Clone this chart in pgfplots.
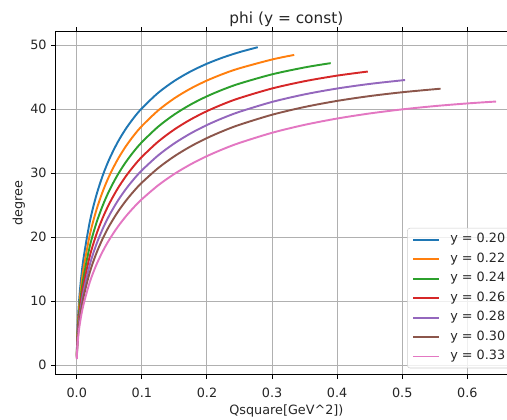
\documentclass[border=0pt]{standalone}
\usepackage{fontspec}
\setmainfont{DejaVu Sans}
\usepackage{pgfplots}
\pgfplotsset{compat=1.18}
\definecolor{c0}{HTML}{1F77B4}
\definecolor{c1}{HTML}{FF7F0E}
\definecolor{c2}{HTML}{2CA02C}
\definecolor{c3}{HTML}{D62728}
\definecolor{c4}{HTML}{9467BD}
\definecolor{c5}{HTML}{8C564B}
\definecolor{c6}{HTML}{E377C2}
\definecolor{gridgray}{HTML}{B0B0B0}
\definecolor{leggray}{HTML}{CCCCCC}
\begin{document}
\begin{tikzpicture}
\begin{axis}[
  scale only axis, width=360.3pt, height=268pt,
  at={(0pt,0pt)}, anchor=south west,
  xmin=-0.0322, xmax=0.6762, ymin=-1.49, ymax=52.1,
  xtick={0,0.1,0.2,0.3,0.4,0.5,0.6},
  xticklabels={0.0,0.1,0.2,0.3,0.4,0.5,0.6},
  ytick={0,10,20,30,40,50},
  yticklabels={0,10,20,30,40,50},
  tick align=outside, major tick length=3.5pt,
  tick style={black, line width=0.8pt},
  axis line style={black, line width=0.8pt},
  grid=major, major grid style={draw=gridgray, line width=0.8pt},
  tick label style={font=\fontsize{10}{12}\selectfont, text=black!85, inner sep=0pt},
  xticklabel style={yshift=-6.5pt},
  yticklabel style={xshift=-3.5pt},
  title={phi (y = const)},
  title style={font=\fontsize{12}{14.4}\selectfont, text=black!85, at={(0.5,1)}, anchor=south, inner sep=0pt, yshift=-2.5pt},
  xlabel={Qsquare[GeV\textasciicircum 2])},
  ylabel={degree},
  label style={font=\fontsize{10}{12}\selectfont, text=black!85, inner sep=0pt},
  xlabel style={yshift=-5.5pt},
  ylabel style={yshift=4pt},
  legend cell align=left,
  legend image code/.code={\draw[#1, draw=., line width=1.5pt] (0pt,0pt) -- (20pt,0pt);},
  legend style={at={(1,0)}, anchor=south east, xshift=-5pt, yshift=5pt,
    draw=leggray, fill=white, fill opacity=0.8, text opacity=1,
    rounded corners=2pt, font=\fontsize{10}{12}\selectfont, text=black!85,
    inner xsep=4pt, inner ysep=4pt, row sep=5.2pt, column sep=8pt,
    nodes={inner sep=0pt, text height=7.5pt, text depth=2.5pt}},
]
\addplot[c0, line width=1.5pt, smooth, tension=0.5] coordinates {(0.0001,1.708) (0.0005,3.812) (0.001,5.380) (0.0025,8.454) (0.005,11.837) (0.01,16.418) (0.02,22.386) (0.03,26.506) (0.04,29.654) (0.05,32.186) (0.0625,34.758) (0.075,36.861) (0.0875,38.620) (0.1,40.119) (0.125,42.535) (0.15,44.403) (0.175,45.886) (0.2,47.087) (0.225,48.075) (0.25,48.897) (0.278,49.663)};
\addlegendentry{y = 0.20}
\addplot[c1, line width=1.5pt, smooth, tension=0.5] coordinates {(0.0001,1.533) (0.0005,3.423) (0.001,4.832) (0.0025,7.601) (0.005,10.660) (0.01,14.830) (0.02,20.328) (0.03,24.179) (0.04,27.158) (0.05,29.581) (0.0625,32.069) (0.075,34.124) (0.0875,35.860) (0.1,37.351) (0.125,39.781) (0.15,41.686) (0.175,43.213) (0.2,44.463) (0.225,45.502) (0.25,46.374) (0.3,47.745) (0.334,48.459)};
\addlegendentry{y = 0.22}
\addplot[c2, line width=1.5pt, smooth, tension=0.5] coordinates {(0.0001,1.387) (0.0005,3.098) (0.001,4.375) (0.0025,6.887) (0.005,9.669) (0.01,13.483) (0.02,18.559) (0.03,22.157) (0.04,24.969) (0.05,27.277) (0.0625,29.669) (0.075,31.663) (0.0875,33.360) (0.1,34.829) (0.125,37.246) (0.15,39.161) (0.175,40.714) (0.2,41.997) (0.225,43.072) (0.25,43.982) (0.3,45.427) (0.35,46.505) (0.39,47.175)};
\addlegendentry{y = 0.24}
\addplot[c3, line width=1.5pt, smooth, tension=0.5] coordinates {(0.0001,1.264) (0.0005,2.822) (0.001,3.986) (0.0025,6.279) (0.005,8.824) (0.01,12.328) (0.02,17.026) (0.03,20.388) (0.04,23.039) (0.05,25.232) (0.0625,27.520) (0.075,29.443) (0.0875,31.092) (0.1,32.528) (0.125,34.912) (0.15,36.820) (0.175,38.381) (0.2,39.682) (0.225,40.780) (0.25,41.718) (0.3,43.219) (0.35,44.354) (0.4,45.227) (0.447,45.864)};
\addlegendentry{y = 0.26}
\addplot[c4, line width=1.5pt, smooth, tension=0.5] coordinates {(0.0001,1.157) (0.0005,2.585) (0.001,3.652) (0.0025,5.756) (0.005,8.095) (0.01,11.326) (0.02,15.686) (0.03,18.830) (0.04,21.327) (0.05,23.405) (0.0625,25.589) (0.075,27.437) (0.0875,29.031) (0.1,30.427) (0.125,32.762) (0.15,34.648) (0.175,36.204) (0.2,37.510) (0.225,38.621) (0.25,39.574) (0.3,41.116) (0.35,42.296) (0.4,43.213) (0.45,43.930) (0.5,44.494) (0.503,44.523)};
\addlegendentry{y = 0.28}
\addplot[c5, line width=1.5pt, smooth, tension=0.5] coordinates {(0.0001,1.065) (0.0005,2.380) (0.001,3.362) (0.0025,5.300) (0.005,7.459) (0.01,10.449) (0.02,14.504) (0.03,17.447) (0.04,19.799) (0.05,21.767) (0.0625,23.847) (0.075,25.618) (0.0875,27.153) (0.1,28.504) (0.125,30.779) (0.15,32.632) (0.175,34.173) (0.2,35.474) (0.225,36.587) (0.25,37.548) (0.3,39.115) (0.35,40.327) (0.4,41.278) (0.45,42.031) (0.5,42.630) (0.55,43.106) (0.559,43.181)};
\addlegendentry{y = 0.30}
\addplot[c6, line width=1.5pt, smooth, tension=0.5] coordinates {(0.0001,0.947) (0.0005,2.117) (0.001,2.991) (0.0025,4.718) (0.005,6.644) (0.01,9.320) (0.02,12.973) (0.03,15.645) (0.04,17.795) (0.05,19.607) (0.0625,21.536) (0.075,23.190) (0.0875,24.634) (0.1,25.913) (0.125,28.086) (0.15,29.873) (0.175,31.374) (0.2,32.654) (0.225,33.756) (0.25,34.716) (0.3,36.298) (0.35,37.538) (0.4,38.524) (0.45,39.315) (0.5,39.953) (0.55,40.468) (0.6,40.883) (0.644,41.179)};
\addlegendentry{y = 0.33}
\end{axis}
\pgfresetboundingbox
\useasboundingbox (-43.6pt,-34.7pt) rectangle (352.5pt,292.7pt);
\end{tikzpicture}
\end{document}
